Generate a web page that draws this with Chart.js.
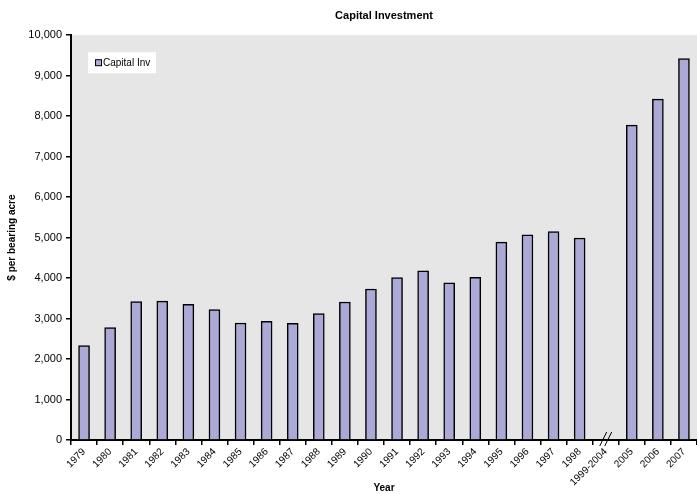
<!DOCTYPE html>
<html>
<head>
<meta charset="utf-8">
<script src="https://cdn.jsdelivr.net/npm/chart.js@4"></script>
<style>
  html, body { margin: 0; padding: 0; background: #fff; }
  #wrap { width: 697px; height: 494px; position: relative; }
</style>
</head>
<body>
<div id="wrap"><canvas id="capChart"></canvas></div>
<script>
const years = ['1979', '1980', '1981', '1982', '1983', '1984', '1985', '1986', '1987', '1988',
  '1989', '1990', '1991', '1992', '1993', '1994', '1995', '1996', '1997', '1998',
  '1999-2004', '2005', '2006', '2007'];
const capitalInv = [2330, 2780, 3420, 3430, 3350, 3220, 2890, 2930, 2880, 3120,
  3410, 3730, 4010, 4180, 3880, 4020, 4890, 5070, 5150, 4990,
  null, 7780, 8420, 9420];
const breakLabel = '1999-2004';

const FONT = 'Arial, "Liberation Sans", sans-serif';
const BAR_FILL = '#aba9d6';

// grey plot background, legend box and the axis break mark
const plotExtras = {
  id: 'plotExtras',
  beforeDraw(chart) {
    const { ctx, chartArea: a } = chart;
    ctx.save();
    ctx.fillStyle = '#e6e6e6';
    ctx.fillRect(a.left, a.top, a.right - a.left, a.bottom - a.top);
    ctx.restore();
  },
  afterDraw(chart) {
    const { ctx, chartArea: a } = chart;
    ctx.save();
    // legend
    const lx = a.left + 17, ly = a.top + 17;
    ctx.fillStyle = '#fff';
    ctx.fillRect(lx, ly, 68, 21);
    ctx.fillStyle = BAR_FILL;
    ctx.strokeStyle = '#000';
    ctx.lineWidth = 1;
    ctx.fillRect(lx + 7.5, ly + 7.5, 6, 6);
    ctx.strokeRect(lx + 7.5, ly + 7.5, 6, 6);
    ctx.fillStyle = '#000';
    ctx.font = '10px ' + FONT;
    ctx.textBaseline = 'middle';
    ctx.fillText(chart.data.datasets[0].label, lx + 15, ly + 11);

    // break mark on x axis
    const x = chart.scales.x.getPixelForValue(years.indexOf(breakLabel));
    const y = a.bottom;
    ctx.lineWidth = 1;
    [-3, 2].forEach(dx => {
      ctx.beginPath();
      ctx.moveTo(x + dx - 3, y + 6);
      ctx.lineTo(x + dx + 4, y - 8);
      ctx.stroke();
    });
    ctx.restore();
  }
};

Chart.defaults.font.family = FONT;
Chart.defaults.color = '#000';

new Chart(document.getElementById('capChart'), {
  type: 'bar',
  data: {
    labels: years,
    datasets: [{
      label: 'Capital Inv',
      data: capitalInv,
      backgroundColor: BAR_FILL,
      borderColor: '#000',
      borderWidth: 1.5,
      barThickness: 11
    }]
  },
  options: {
    responsive: true,
    maintainAspectRatio: false,
    animation: false,
    layout: { padding: { top: 0, right: 0, bottom: 0, left: 0 } },
    plugins: {
      legend: { display: false },
      tooltip: { enabled: false },
      title: {
        display: true,
        text: 'Capital Investment',
        fullSize: false,
        font: { size: 11, weight: 'bold' },
        padding: { top: 9, bottom: 13 }
      }
    },
    scales: {
      x: {
        afterFit: s => { s.height = 54; },
        border: { color: '#000', width: 2 },
        grid: { drawOnChartArea: false, color: '#000', tickLength: 5, lineWidth: 1.5 },
        ticks: { font: { size: 10 }, minRotation: 45, maxRotation: 45, autoSkip: false, padding: 1 },
        title: { display: true, text: 'Year', font: { size: 10, weight: 'bold' }, padding: { top: 0, bottom: 0 } }
      },
      y: {
        min: 0,
        max: 10000,
        afterFit: s => { s.width = 71; },
        border: { color: '#000', width: 2 },
        grid: { drawOnChartArea: false, color: '#000', tickLength: 5, lineWidth: 1.5 },
        ticks: {
          stepSize: 1000,
          font: { size: 11 },
          padding: 4,
          callback: v => v.toLocaleString('en-US')
        },
        title: { display: true, text: '$ per bearing acre', font: { size: 10, weight: 'bold' }, padding: { top: 6, bottom: 0 } }
      }
    }
  },
  plugins: [plotExtras]
});
</script>
</body>
</html>
